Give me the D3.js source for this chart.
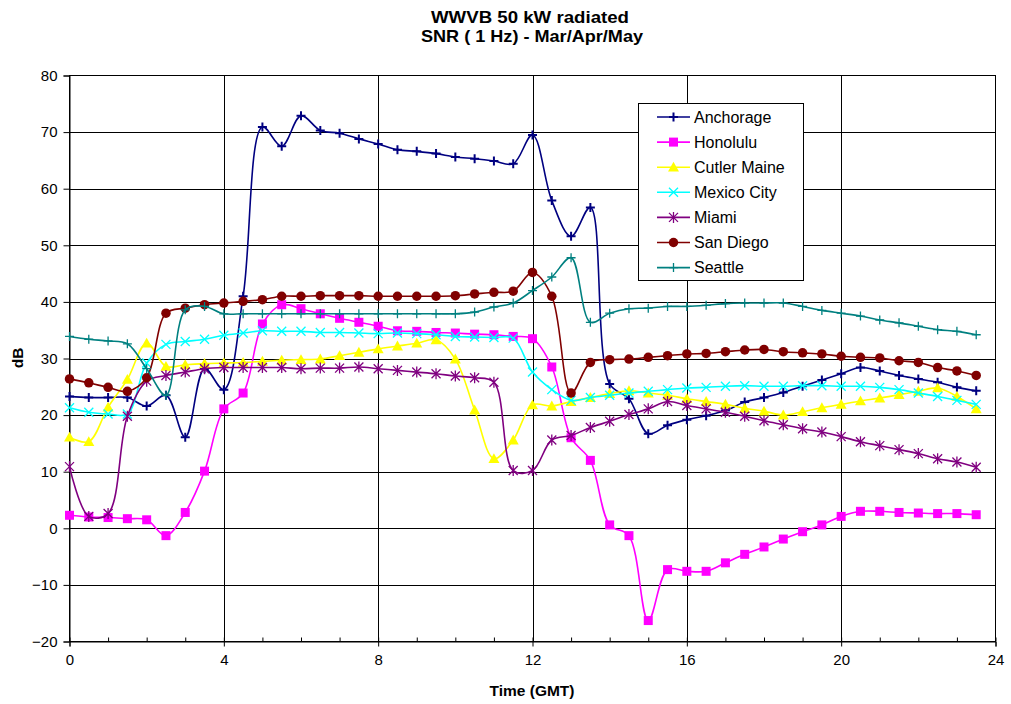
<!DOCTYPE html>
<html>
<head>
<meta charset="utf-8">
<script src="https://cdn.jsdelivr.net/npm/d3@7"></script>
<style>
  html, body { margin: 0; padding: 0; background: #fff; }
  svg { display: block; font-family: "Liberation Sans", Arial, sans-serif; }
</style>
</head>
<body>
<svg id="chart" width="1011" height="704"></svg>
<script>
// ---- Data ----
const hours = d3.range(0, 24, 0.5); // 0, 0.5, ..., 23.5
const seriesNames = ["Anchorage", "Honolulu", "Cutler Maine", "Mexico City", "Miami", "San Diego", "Seattle"];

const anchorage = [23.3, 23.1, 23.1, 23.1, 21.6, 23.5, 16.1, 28.2, 24.5, 41.0, 70.9, 67.5,
  72.9, 70.3, 69.8, 68.8, 67.9, 66.9, 66.6, 66.2, 65.6, 65.3, 64.9, 64.4,
  69.5, 57.9, 51.6, 56.7, 25.5, 22.9, 16.7, 18.2, 19.2, 19.9, 20.8, 22.3,
  23.1, 24.0, 25.1, 26.2, 27.3, 28.4, 27.8, 27.0, 26.4, 25.8, 24.9, 24.3];

const honolulu = [2.3, 2.0, 1.9, 1.7, 1.5, -1.3, 2.8, 10.1, 21.1, 23.9, 36.1, 39.5,
  38.8, 37.9, 37.1, 36.4, 35.7, 34.9, 34.8, 34.6, 34.5, 34.3, 34.2, 33.9,
  33.5, 28.5, 16.0, 12.0, 0.6, -1.3, -16.3, -7.3, -7.6, -7.6, -6.1, -4.6,
  -3.3, -1.9, -0.6, 0.6, 2.1, 3.0, 3.0, 2.8, 2.7, 2.6, 2.6, 2.4];

const cutlerMaine = [16.1, 15.3, 21.4, 26.3, 32.7, 28.6, 28.9, 29.1, 29.2, 29.3, 29.5, 29.7,
  29.8, 29.9, 30.5, 31.1, 31.7, 32.2, 32.7, 33.3, 29.9, 20.9, 12.3, 15.6,
  21.8, 21.6, 22.4, 23.1, 23.8, 24.3, 23.9, 23.5, 22.9, 22.4, 21.9, 21.2,
  20.7, 20.0, 20.6, 21.3, 21.9, 22.5, 23.0, 23.6, 24.2, 24.8, 23.3, 21.1];

const mexicoCity = [21.3, 20.5, 20.2, 20.2, 29.2, 32.5, 33.0, 33.4, 34.1, 34.5, 34.9, 34.8,
  34.8, 34.6, 34.6, 34.5, 34.4, 34.5, 34.4, 34.2, 33.9, 33.8, 33.7, 33.6,
  27.6, 24.5, 22.6, 23.1, 23.5, 23.9, 24.2, 24.5, 24.8, 24.9, 25.1, 25.2,
  25.1, 25.1, 25.2, 25.2, 25.1, 25.1, 24.9, 24.5, 23.9, 23.3, 22.6, 21.9];

const miami = [10.9, 2.1, 2.6, 19.8, 26.0, 27.0, 27.6, 28.2, 28.4, 28.4, 28.4, 28.4,
  28.2, 28.3, 28.3, 28.5, 28.2, 27.9, 27.6, 27.3, 26.9, 26.6, 25.8, 10.2,
  10.2, 15.6, 16.4, 17.8, 18.9, 20.1, 21.1, 22.4, 21.7, 21.1, 20.5, 19.8,
  19.0, 18.3, 17.6, 17.0, 16.2, 15.3, 14.6, 13.9, 13.2, 12.3, 11.7, 10.8];

const sanDiego = [26.4, 25.7, 24.9, 24.2, 26.6, 38.0, 38.9, 39.5, 39.8, 40.1, 40.4, 41.0,
  41.0, 41.1, 41.1, 41.1, 41.0, 41.0, 41.0, 41.0, 41.1, 41.4, 41.7, 41.9,
  45.2, 41.0, 23.9, 29.3, 29.8, 29.9, 30.2, 30.5, 30.8, 30.9, 31.2, 31.5,
  31.6, 31.2, 31.0, 30.8, 30.4, 30.2, 30.1, 29.6, 29.3, 28.4, 27.8, 27.0];

const seattle = [33.9, 33.4, 33.1, 32.6, 28.2, 23.5, 38.6, 39.2, 37.9, 37.9, 37.9, 37.9,
  37.9, 37.9, 37.9, 37.9, 37.9, 37.9, 37.9, 37.9, 37.9, 38.2, 39.1, 39.8,
  42.0, 44.4, 47.8, 36.4, 38.0, 38.8, 38.9, 39.2, 39.2, 39.4, 39.7, 39.8,
  39.8, 39.8, 39.2, 38.5, 38.0, 37.5, 36.8, 36.3, 35.7, 35.1, 34.8, 34.2];

const xTickLabels = [0, 4, 8, 12, 16, 20, 24];
const yTickLabels = [-20, -10, 0, 10, 20, 30, 40, 50, 60, 70, 80];

const titleLines = ["WWVB 50 kW radiated", "SNR ( 1 Hz) - Mar/Apr/May"];
const xTitle = "Time (GMT)";
const yTitle = "dB";

// ---- Styling (kept separate from data) ----
const styles = [
  { color: "#000080", marker: "plus",     size: 9,  sw: 2 },
  { color: "#FF00FF", marker: "square",   size: 9 },
  { color: "#FFFF00", marker: "triangle", size: 11 },
  { color: "#00FFFF", marker: "x",        size: 9,  sw: 1.3 },
  { color: "#800080", marker: "asterisk", size: 9,  sw: 1.3 },
  { color: "#800000", marker: "circle",   size: 9.5 },
  { color: "#008080", marker: "plus",     size: 9,  sw: 1.3 }
];
const allValues = [anchorage, honolulu, cutlerMaine, mexicoCity, miami, sanDiego, seattle];

const svg = d3.select("#chart");
const margin = { left: 69.5, right: 1011 - 995.5, top: 75.5, bottom: 704 - 641.5 };
const W = 1011, H = 704;

const x = d3.scaleLinear().domain([0, 24]).range([margin.left, W - margin.right]);
const y = d3.scaleLinear().domain([-20, 80]).range([H - margin.bottom, margin.top]);

// plot background
svg.append("rect").attr("x", x(0)).attr("y", y(80))
  .attr("width", x(24) - x(0)).attr("height", y(-20) - y(80))
  .attr("fill", "#fff").attr("stroke", "#000").attr("stroke-width", 1);

// gridlines
const grid = svg.append("g");
grid.selectAll("line.h").data(yTickLabels.filter(v => v > -20 && v < 80)).join("line")
  .attr("x1", x(0)).attr("x2", x(24))
  .attr("y1", d => Math.round(y(d)) + 0.5).attr("y2", d => Math.round(y(d)) + 0.5)
  .attr("stroke", "#000").attr("stroke-width", 1);
grid.selectAll("line.v").data(xTickLabels.filter(v => v > 0 && v < 24)).join("line")
  .attr("y1", y(-20)).attr("y2", y(80))
  .attr("x1", d => Math.round(x(d)) + 0.5).attr("x2", d => Math.round(x(d)) + 0.5)
  .attr("stroke", "#000").attr("stroke-width", 1);

// axes
const xAxisMinor = d3.axisBottom(x).tickValues(d3.range(0, 25, 1)).tickSize(-4).tickFormat("");
svg.append("g").attr("transform", `translate(0,${y(-20)})`).call(xAxisMinor)
  .call(g => g.select(".domain").remove())
  .call(g => g.selectAll("line").attr("stroke", "#000"));
const xAxis = d3.axisBottom(x).tickValues(xTickLabels).tickSize(5).tickPadding(8).tickFormat(d3.format("d"));
svg.append("g").attr("transform", `translate(0,${y(-20)})`).call(xAxis)
  .call(g => g.select(".domain").attr("stroke", "#000"))
  .call(g => g.selectAll("line").attr("stroke", "#000"))
  .call(g => g.selectAll("text").attr("font-size", 15).attr("fill", "#000")
    .attr("font-family", "Liberation Sans, Arial, sans-serif"));
const yAxis = d3.axisLeft(y).tickValues(yTickLabels).tickSize(6).tickPadding(6).tickFormat(d3.format("d"));
svg.append("g").attr("transform", `translate(${x(0)},0)`).call(yAxis)
  .call(g => g.select(".domain").attr("stroke", "#000"))
  .call(g => g.selectAll("line").attr("stroke", "#000"))
  .call(g => g.selectAll("text").attr("font-size", 15).attr("fill", "#000")
    .attr("font-family", "Liberation Sans, Arial, sans-serif"));

// titles
svg.append("text").attr("x", 530).attr("y", 23).attr("text-anchor", "middle")
  .attr("font-size", 16.5).attr("font-weight", "bold")
  .attr("textLength", 198).attr("lengthAdjust", "spacingAndGlyphs").text(titleLines[0]);
svg.append("text").attr("x", 532).attr("y", 41.5).attr("text-anchor", "middle")
  .attr("font-size", 16.5).attr("font-weight", "bold")
  .attr("textLength", 222).attr("lengthAdjust", "spacingAndGlyphs").text(titleLines[1]);
svg.append("text").attr("x", 532).attr("y", 696).attr("text-anchor", "middle")
  .attr("font-size", 15.5).attr("font-weight", "bold").text(xTitle);
svg.append("text").attr("transform", "translate(23,358) rotate(-90)").attr("text-anchor", "middle")
  .attr("font-size", 15.5).attr("font-weight", "bold").text(yTitle);

// marker drawing
function drawMarker(g, st) {
  const s = st.size, h = s / 2;
  switch (st.marker) {
    case "plus":
      g.append("path").attr("d", `M${-h},0H${h}M0,${-h}V${h}`)
        .attr("stroke", st.color).attr("stroke-width", st.sw || 1.3).attr("fill", "none");
      break;
    case "x":
      g.append("path").attr("d", `M${-h},${-h}L${h},${h}M${-h},${h}L${h},${-h}`)
        .attr("stroke", st.color).attr("stroke-width", st.sw || 1.3).attr("fill", "none");
      break;
    case "asterisk":
      g.append("path").attr("d", `M${-h},${-h}L${h},${h}M${-h},${h}L${h},${-h}M0,${-h - 1}V${h + 1}`)
        .attr("stroke", st.color).attr("stroke-width", st.sw || 1.3).attr("fill", "none");
      break;
    case "square":
      g.append("rect").attr("x", -h).attr("y", -h).attr("width", s).attr("height", s)
        .attr("fill", st.color);
      break;
    case "triangle":
      g.append("path").attr("d", `M0,${-h}L${h},${h * 0.8}L${-h},${h * 0.8}Z`).attr("fill", st.color);
      break;
    case "circle":
      g.append("circle").attr("r", h).attr("fill", st.color);
      break;
  }
}

const line = d3.line().x(d => x(d[0])).y(d => y(d[1])).curve(d3.curveCatmullRom.alpha(0.5));
const plot = svg.append("g");
allValues.forEach((vals, i) => {
  const st = styles[i];
  const pts = hours.map((h, j) => [h, vals[j]]);
  const g = plot.append("g");
  g.append("path").datum(pts).attr("d", line).attr("fill", "none")
    .attr("stroke", st.color).attr("stroke-width", 1.6);
  g.selectAll("g.m").data(pts).join("g")
    .attr("transform", d => `translate(${x(d[0])},${y(d[1])})`)
    .each(function () { drawMarker(d3.select(this), st); });
});

// legend
const lg = svg.append("g");
lg.append("rect").attr("x", 638.5).attr("y", 103.5).attr("width", 165).attr("height", 177)
  .attr("fill", "#fff").attr("stroke", "#000").attr("stroke-width", 1);
seriesNames.forEach((name, i) => {
  const st = styles[i];
  const cy = 117 + i * 25.1;
  const row = lg.append("g");
  row.append("line").attr("x1", 657).attr("x2", 690).attr("y1", cy).attr("y2", cy)
    .attr("stroke", st.color).attr("stroke-width", 1.6);
  drawMarker(row.append("g").attr("transform", `translate(673.5,${cy})`), st);
  row.append("text").attr("x", 694).attr("y", cy + 5.5).attr("font-size", 16).text(name);
});
</script>
</body>
</html>
